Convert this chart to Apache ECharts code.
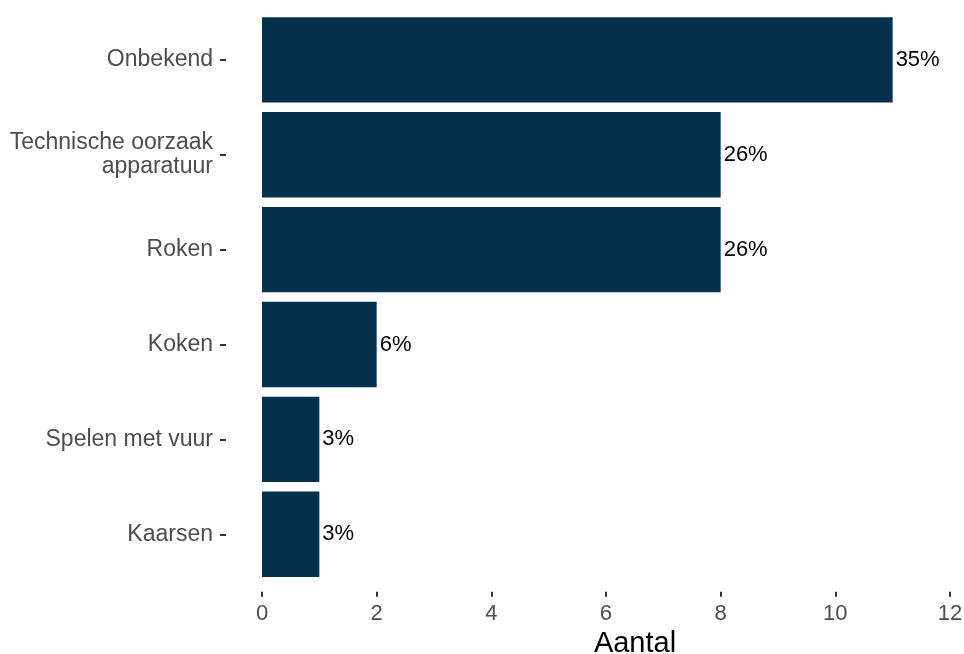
<!DOCTYPE html>
<html>
<head>
<meta charset="utf-8">
<script src="https://cdn.jsdelivr.net/npm/echarts@6/dist/echarts.min.js"></script>
<style>
  html, body { margin: 0; padding: 0; background: #fff; }
  #chart { width: 964px; height: 654px; }
</style>
</head>
<body>
<div id="chart"></div>
<script>
// oorzaken, van boven naar beneden
const categories = ['Onbekend', 'Technische oorzaak\napparatuur', 'Roken', 'Koken', 'Spelen met vuur', 'Kaarsen']
const counts = [11, 8, 8, 2, 1, 1]
const percentLabels = ['35%', '26%', '26%', '6%', '3%', '3%']
const xTicks = [0, 2, 4, 6, 8, 10, 12]

const chart = echarts.init(document.getElementById('chart'))

// paneel loopt iets links van 0 door (zoals ggplot expand)
const option = {
  animation: false,
  textStyle: { fontFamily: 'Liberation Sans, Arial, sans-serif' },
  grid: { left: 226, right: 4, top: 12.4, bottom: 72.3, outerBoundsMode: 'none' },
  xAxis: {
    type: 'value',
    min: -0.628,
    max: 12.175,
    offset: 10,
    name: 'Aantal',
    nameLocation: 'middle',
    nameGap: 37,
    nameTextStyle: { fontSize: 29, color: '#000', padding: [0, 0, 0, 84] },
    axisLine: { show: false },
    axisTick: { show: true, length: 5, customValues: xTicks, lineStyle: { color: '#333', width: 2 } },
    axisLabel: { fontSize: 22, color: '#4d4d4d', margin: 11, customValues: xTicks },
    splitLine: { show: false }
  },
  yAxis: {
    type: 'category',
    data: categories,
    inverse: true,
    axisLine: { show: false, onZero: false },
    axisTick: { show: true, length: 6, alignWithLabel: true, lineStyle: { color: '#333', width: 2 } },
    axisLabel: { fontSize: 23, color: '#4d4d4d', margin: 13, align: 'right', lineHeight: 24, padding: [3, 0, 0, 0] }
  },
  series: [{
    type: 'bar',
    data: counts,
    barCategoryGap: '10%',
    itemStyle: { color: '#03304b' },
    label: {
      show: true,
      position: 'right',
      distance: 3,
      fontSize: 22,
      color: '#000',
      padding: [4, 0, 0, 0],
      formatter: p => percentLabels[p.dataIndex]
    }
  }]
}

chart.setOption(option)
</script>
</body>
</html>
